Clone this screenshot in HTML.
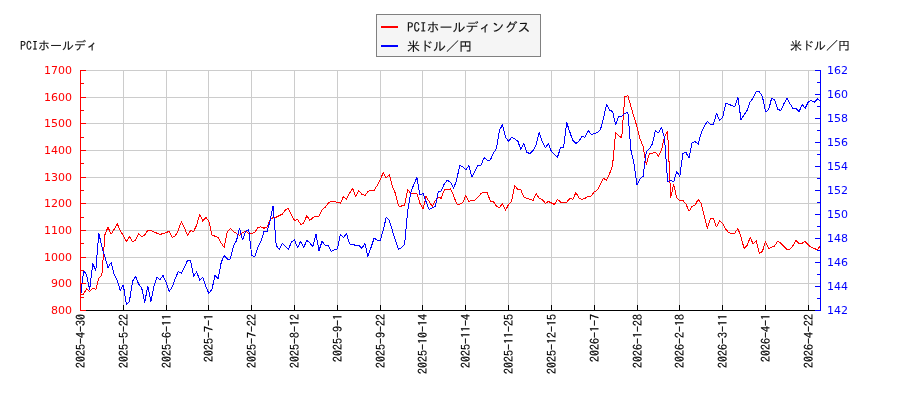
<!DOCTYPE html>
<html lang="ja"><head><meta charset="utf-8"><title>PCIホールディングス 米ドル／円</title>
<style>
html,body{margin:0;padding:0;background:#fff}
body{width:900px;height:400px;overflow:hidden}
text{font-family:"IPAGothic","Liberation Mono","Noto Sans CJK JP",monospace}
.n{font-family:"DejaVu Sans","Liberation Sans",sans-serif;font-size:11px}
.d{font-family:"IPAGothic","Liberation Mono",monospace;font-size:12px;fill:#000;stroke:#000;stroke-width:0.15px}
.j{fill:#111;stroke:#111;stroke-width:0.12px}
</style></head><body>
<svg width="900" height="400" viewBox="0 0 900 400" style="display:block">
<rect width="900" height="400" fill="#fff"/>
<path d="M123.5 70V310M166.5 70V310M208.5 70V310M251.5 70V310M294.5 70V310M337.5 70V310M380.5 70V310M422.5 70V310M465.5 70V310M508.5 70V310M551.5 70V310M594.5 70V310M637.5 70V310M679.5 70V310M722.5 70V310M765.5 70V310M808.5 70V310M80.5 70.5H820.5M80.5 97.5H820.5M80.5 123.5H820.5M80.5 150.5H820.5M80.5 177.5H820.5M80.5 203.5H820.5M80.5 230.5H820.5M80.5 257.5H820.5M80.5 283.5H820.5" stroke="#cccccc" stroke-width="1" fill="none" shape-rendering="crispEdges"/>
<polyline points="80.5,294.5 83.6,294.0 86.6,289.0 89.7,291.5 92.7,288.0 95.8,289.5 98.8,278.5 101.9,275.0 105.0,234.5 108.0,227.2 111.1,234.2 114.1,229.5 117.2,223.5 120.3,231.0 123.3,235.5 126.4,241.5 129.4,236.5 132.5,241.5 135.5,240.5 138.6,233.5 141.7,236.5 144.7,235.0 147.8,230.3 150.8,230.3 153.9,231.8 156.9,233.2 160.0,234.5 163.1,233.5 166.1,232.8 169.2,231.0 172.2,237.5 175.3,236.0 178.4,230.0 181.4,221.5 184.5,228.0 187.5,235.5 190.6,230.5 193.6,231.5 196.7,225.0 199.8,214.2 202.8,221.2 205.9,217.2 208.9,221.5 212.0,235.0 215.0,236.2 218.1,237.5 221.2,243.0 224.2,247.5 227.3,231.5 230.3,228.5 233.4,231.5 236.5,233.5 239.5,235.5 242.6,232.5 245.6,231.2 248.7,233.5 251.7,233.5 254.8,232.5 257.9,227.5 260.9,226.8 264.0,228.2 267.0,227.0 270.1,220.0 273.1,217.5 276.2,217.2 279.3,215.5 282.3,214.2 285.4,210.0 288.4,208.5 291.5,215.0 294.5,220.5 297.6,219.3 300.7,224.5 303.7,223.2 306.8,215.5 309.8,220.5 312.9,217.5 316.0,216.3 319.0,216.3 322.1,209.5 325.1,207.5 328.2,203.2 331.2,201.5 334.3,201.5 337.4,202.5 340.4,203.2 343.5,196.5 346.5,199.2 349.6,193.0 352.6,188.5 355.7,196.5 358.8,190.5 361.8,194.2 364.9,195.5 367.9,191.5 371.0,190.3 374.1,190.3 377.1,185.5 380.2,180.0 383.2,172.5 386.3,178.0 389.3,174.5 392.4,186.5 395.5,193.5 398.5,206.0 401.6,206.0 404.6,205.0 407.7,189.5 410.7,193.5 413.8,193.5 416.9,193.5 419.9,203.3 423.0,209.0 426.0,196.5 429.1,201.5 432.2,206.5 435.2,201.0 438.3,197.5 441.3,198.2 444.4,189.5 447.4,190.0 450.5,188.8 453.6,195.5 456.6,204.0 459.7,204.2 462.7,202.8 465.8,195.5 468.8,201.3 471.9,200.5 475.0,200.3 478.0,197.0 481.1,193.5 484.1,192.3 487.2,192.5 490.3,201.0 493.3,201.5 496.4,206.2 499.4,207.5 502.5,204.0 505.5,210.2 508.6,204.5 511.7,201.0 514.7,185.5 517.8,189.5 520.8,189.8 523.9,197.2 526.9,198.5 530.0,199.3 533.1,200.5 536.1,193.5 539.2,198.2 542.2,199.5 545.3,203.2 548.4,201.5 551.4,203.0 554.5,204.5 557.5,199.3 560.6,202.2 563.6,202.2 566.7,202.2 569.8,198.5 572.8,199.3 575.9,192.5 578.9,197.8 582.0,199.3 585.0,198.3 588.1,196.5 591.2,196.0 594.2,192.0 597.3,190.0 600.3,184.7 603.4,178.5 606.5,180.0 609.5,174.0 612.6,165.0 615.6,132.5 618.7,135.8 621.7,137.8 624.8,96.8 627.9,95.5 630.9,106.5 634.0,117.0 637.0,126.7 640.1,139.0 643.1,146.5 646.2,164.5 649.3,153.8 652.3,153.2 655.4,152.2 658.4,156.1 661.5,150.5 664.5,136.5 667.6,131.5 670.7,197.5 673.7,184.5 676.8,198.0 679.8,200.5 682.9,200.5 686.0,204.0 689.0,211.2 692.1,206.5 695.1,205.0 698.2,199.5 701.2,203.5 704.3,216.0 707.4,228.2 710.4,218.5 713.5,218.5 716.5,227.0 719.6,220.8 722.6,223.5 725.7,229.0 728.8,232.8 731.8,233.5 734.9,233.0 737.9,228.5 741.0,237.0 744.1,248.5 747.1,245.5 750.2,237.5 753.2,244.0 756.3,240.5 759.3,253.5 762.4,251.5 765.5,241.5 768.5,248.5 771.6,247.2 774.6,246.0 777.7,241.2 780.7,243.0 783.8,246.5 786.9,249.3 789.9,249.3 793.0,245.5 796.0,240.5 799.1,243.5 802.2,243.2 805.2,241.5 808.3,245.0 811.3,247.5 814.4,248.5 817.4,250.0 820.5,245.5" stroke="#ff0000" fill="none" stroke-width="1" stroke-linejoin="round" shape-rendering="crispEdges"/>
<polyline points="80.5,297.0 83.6,271.0 86.6,274.5 89.7,290.0 92.7,263.5 95.8,270.5 98.8,233.0 101.9,247.0 105.0,257.0 108.0,267.5 111.1,262.5 114.1,274.5 117.2,280.0 120.3,290.5 123.3,285.0 126.4,304.5 129.4,301.5 132.5,281.5 135.5,276.2 138.6,284.0 141.7,288.0 144.7,302.5 147.8,286.0 150.8,301.5 153.9,286.7 156.9,277.5 160.0,279.5 163.1,275.5 166.1,282.5 169.2,291.5 172.2,287.0 175.3,278.4 178.4,271.5 181.4,273.2 184.5,267.0 187.5,260.5 190.6,260.5 193.6,276.2 196.7,271.7 199.8,280.5 202.8,277.5 205.9,286.5 208.9,293.5 212.0,289.0 215.0,275.5 218.1,278.8 221.2,262.5 224.2,255.5 227.3,259.0 230.3,259.0 233.4,246.0 236.5,240.7 239.5,228.2 242.6,240.0 245.6,231.5 248.7,229.5 251.7,255.5 254.8,256.7 257.9,247.5 260.9,241.5 264.0,231.5 267.0,232.0 270.1,220.5 273.1,206.0 276.2,245.5 279.3,249.5 282.3,243.5 285.4,246.5 288.4,249.5 291.5,242.0 294.5,240.0 297.6,247.5 300.7,241.2 303.7,247.5 306.8,240.2 309.8,243.0 312.9,246.5 316.0,234.2 319.0,250.5 322.1,241.2 325.1,245.3 328.2,245.5 331.2,251.5 334.3,250.0 337.4,249.0 340.4,234.5 343.5,237.5 346.5,233.5 349.6,244.0 352.6,244.2 355.7,245.5 358.8,245.5 361.8,248.5 364.9,243.5 367.9,256.5 371.0,247.5 374.1,238.2 377.1,240.0 380.2,241.0 383.2,230.0 386.3,217.2 389.3,220.5 392.4,230.5 395.5,241.0 398.5,249.2 401.6,247.5 404.6,244.5 407.7,211.0 410.7,192.5 413.8,184.5 416.9,177.5 419.9,194.8 423.0,193.5 426.0,201.5 429.1,209.5 432.2,208.0 435.2,206.5 438.3,192.0 441.3,191.0 444.4,183.5 447.4,180.2 450.5,182.3 453.6,188.2 456.6,180.2 459.7,165.5 462.7,166.5 465.8,170.0 468.8,165.5 471.9,177.0 475.0,171.2 478.0,165.5 481.1,165.0 484.1,157.5 487.2,160.2 490.3,160.0 493.3,153.5 496.4,148.5 499.4,130.5 502.5,124.5 505.5,137.0 508.6,141.5 511.7,137.2 514.7,139.0 517.8,141.0 520.8,149.5 523.9,143.5 526.9,152.5 530.0,153.5 533.1,150.5 536.1,144.5 539.2,132.5 542.2,141.5 545.3,148.0 548.4,143.5 551.4,151.5 554.5,154.5 557.5,157.2 560.6,147.5 563.6,147.0 566.7,122.5 569.8,132.0 572.8,140.5 575.9,143.5 578.9,141.5 582.0,136.3 585.0,137.3 588.1,130.5 591.2,134.2 594.2,133.8 597.3,132.5 600.3,130.0 603.4,119.0 606.5,104.5 609.5,110.0 612.6,111.5 615.6,124.5 618.7,116.5 621.7,116.5 624.8,113.5 627.9,112.2 630.9,150.0 634.0,163.5 637.0,185.0 640.1,178.5 643.1,176.5 646.2,152.2 649.3,148.8 652.3,144.0 655.4,130.5 658.4,133.0 661.5,127.5 664.5,138.0 667.6,181.5 670.7,180.5 673.7,181.8 676.8,171.5 679.8,176.2 682.9,153.5 686.0,152.5 689.0,158.0 692.1,143.0 695.1,141.5 698.2,144.2 701.2,133.0 704.3,126.0 707.4,121.5 710.4,124.2 713.5,124.2 716.5,113.3 719.6,120.5 722.6,117.5 725.7,103.5 728.8,104.3 731.8,105.5 734.9,106.5 737.9,97.5 741.0,119.5 744.1,115.0 747.1,110.5 750.2,101.8 753.2,97.8 756.3,91.8 759.3,91.5 762.4,96.5 765.5,111.8 768.5,110.5 771.6,98.2 774.6,100.0 777.7,109.2 780.7,110.5 783.8,104.0 786.9,98.2 789.9,103.5 793.0,108.5 796.0,108.5 799.1,111.5 802.2,104.5 805.2,108.2 808.3,102.0 811.3,100.5 814.4,102.2 817.4,98.8 820.5,101.5" stroke="#0000ff" fill="none" stroke-width="1" stroke-linejoin="round" shape-rendering="crispEdges"/>
<path d="M80.0 310.5H821.0M80.5 310.5v-5.5M123.5 310.5v-5.5M166.5 310.5v-5.5M208.5 310.5v-5.5M251.5 310.5v-5.5M294.5 310.5v-5.5M337.5 310.5v-5.5M380.5 310.5v-5.5M422.5 310.5v-5.5M465.5 310.5v-5.5M508.5 310.5v-5.5M551.5 310.5v-5.5M594.5 310.5v-5.5M637.5 310.5v-5.5M679.5 310.5v-5.5M722.5 310.5v-5.5M765.5 310.5v-5.5M808.5 310.5v-5.5" stroke="#000" stroke-width="1" fill="none" shape-rendering="crispEdges"/>
<path d="M80.5 70V311M80.0 70.5h6M80.0 97.5h6M80.0 123.5h6M80.0 150.5h6M80.0 177.5h6M80.0 203.5h6M80.0 230.5h6M80.0 257.5h6M80.0 283.5h6M80.0 310.5h6M80.0 83.5h4M80.0 110.5h4M80.0 137.5h4M80.0 163.5h4M80.0 190.5h4M80.0 217.5h4M80.0 243.5h4M80.0 270.5h4M80.0 297.5h4" stroke="#ff0000" stroke-width="1" fill="none" shape-rendering="crispEdges"/>
<path d="M820.5 70V311M821.0 70.5h-6M821.0 94.5h-6M821.0 118.5h-6M821.0 142.5h-6M821.0 166.5h-6M821.0 190.5h-6M821.0 214.5h-6M821.0 238.5h-6M821.0 262.5h-6M821.0 286.5h-6M821.0 310.5h-6M821.0 82.5h-4M821.0 106.5h-4M821.0 130.5h-4M821.0 154.5h-4M821.0 178.5h-4M821.0 202.5h-4M821.0 226.5h-4M821.0 250.5h-4M821.0 274.5h-4M821.0 298.5h-4" stroke="#0000ff" stroke-width="1" fill="none" shape-rendering="crispEdges"/>
<text x="72" y="74.1" text-anchor="end" class="n" fill="#ff0000">1700</text>
<text x="72" y="101.1" text-anchor="end" class="n" fill="#ff0000">1600</text>
<text x="72" y="127.1" text-anchor="end" class="n" fill="#ff0000">1500</text>
<text x="72" y="154.1" text-anchor="end" class="n" fill="#ff0000">1400</text>
<text x="72" y="181.1" text-anchor="end" class="n" fill="#ff0000">1300</text>
<text x="72" y="207.1" text-anchor="end" class="n" fill="#ff0000">1200</text>
<text x="72" y="234.1" text-anchor="end" class="n" fill="#ff0000">1100</text>
<text x="72" y="261.1" text-anchor="end" class="n" fill="#ff0000">1000</text>
<text x="72" y="287.1" text-anchor="end" class="n" fill="#ff0000">900</text>
<text x="72" y="314.1" text-anchor="end" class="n" fill="#ff0000">800</text>
<text x="827" y="74.1" class="n" fill="#0000ff">162</text>
<text x="827" y="98.1" class="n" fill="#0000ff">160</text>
<text x="827" y="122.1" class="n" fill="#0000ff">158</text>
<text x="827" y="146.1" class="n" fill="#0000ff">156</text>
<text x="827" y="170.1" class="n" fill="#0000ff">154</text>
<text x="827" y="194.1" class="n" fill="#0000ff">152</text>
<text x="827" y="218.1" class="n" fill="#0000ff">150</text>
<text x="827" y="242.1" class="n" fill="#0000ff">148</text>
<text x="827" y="266.1" class="n" fill="#0000ff">146</text>
<text x="827" y="290.1" class="n" fill="#0000ff">144</text>
<text x="827" y="314.1" class="n" fill="#0000ff">142</text>
<text transform="translate(84.7 314) rotate(-90)" text-anchor="end" class="d">2025-4-30</text>
<text transform="translate(127.7 314) rotate(-90)" text-anchor="end" class="d">2025-5-22</text>
<text transform="translate(170.7 314) rotate(-90)" text-anchor="end" class="d">2025-6-11</text>
<text transform="translate(212.7 314) rotate(-90)" text-anchor="end" class="d">2025-7-1</text>
<text transform="translate(255.7 314) rotate(-90)" text-anchor="end" class="d">2025-7-22</text>
<text transform="translate(298.7 314) rotate(-90)" text-anchor="end" class="d">2025-8-12</text>
<text transform="translate(341.7 314) rotate(-90)" text-anchor="end" class="d">2025-9-1</text>
<text transform="translate(384.7 314) rotate(-90)" text-anchor="end" class="d">2025-9-22</text>
<text transform="translate(426.7 314) rotate(-90)" text-anchor="end" class="d">2025-10-14</text>
<text transform="translate(469.7 314) rotate(-90)" text-anchor="end" class="d">2025-11-4</text>
<text transform="translate(512.7 314) rotate(-90)" text-anchor="end" class="d">2025-11-25</text>
<text transform="translate(555.7 314) rotate(-90)" text-anchor="end" class="d">2025-12-15</text>
<text transform="translate(598.7 314) rotate(-90)" text-anchor="end" class="d">2026-1-7</text>
<text transform="translate(641.7 314) rotate(-90)" text-anchor="end" class="d">2026-1-28</text>
<text transform="translate(683.7 314) rotate(-90)" text-anchor="end" class="d">2026-2-18</text>
<text transform="translate(726.7 314) rotate(-90)" text-anchor="end" class="d">2026-3-11</text>
<text transform="translate(769.7 314) rotate(-90)" text-anchor="end" class="d">2026-4-1</text>
<text transform="translate(812.7 314) rotate(-90)" text-anchor="end" class="d">2026-4-22</text>
<text x="20" y="50.4" class="j" style="font-size:12px">PCIホールディ</text>
<text x="790" y="50.4" class="j" style="font-size:12px">米ドル／円</text>
<rect x="376.5" y="14.5" width="164" height="42" fill="#f5f5f5" stroke="#808080" stroke-width="1" shape-rendering="crispEdges"/>
<path d="M381 27h17" stroke="#ff0000" stroke-width="2" shape-rendering="crispEdges"/>
<path d="M381 46h17" stroke="#0000ff" stroke-width="2" shape-rendering="crispEdges"/>
<text x="407" y="31.7" class="j" style="font-size:13px">PCIホールディングス</text>
<text x="407" y="50.7" class="j" style="font-size:13px">米ドル／円</text>
</svg>
</body></html>
